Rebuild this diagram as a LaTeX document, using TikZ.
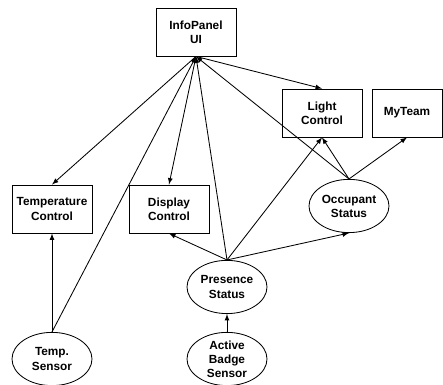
\documentclass[tikz,border=0pt]{standalone}
\usepackage{fontspec}
\setmainfont{Liberation Sans}
\usetikzlibrary{arrows,shapes,positioning}

\begin{document}
\begin{tikzpicture}[x=0.025cm, y=-0.025cm, >=latex, line width=0.6pt]
      \tikzset{
	  compbox/.style={rectangle,draw=black, minimum width=2cm, minimum height=1.2cm, inner sep=1pt, align=center, font=\fontsize{8.4}{10}\selectfont\bfseries},
	  srcell/.style={ellipse,draw=black, minimum width=2cm, minimum height=1.33cm, inner sep=0pt, align=center, font=\fontsize{8.4}{10}\selectfont\bfseries},
	  link/.style={->}
      }
      \useasboundingbox (0,0) rectangle (443,385);

      \node at (196, 32) [compbox] (ui) {InfoPanel\\UI};
      \node at (322, 113) [compbox] (lc) {Light\\Control};
      \node at (407, 113) [compbox, minimum width=1.75cm] (mt) {MyTeam};
      \node at (52, 209) [compbox] (tc) {Temperature\\Control};
      \node at (169, 209) [compbox] (dc) {Display\\Control};
      \node at (349, 206) [srcell] (os) {Occupant\\Status};
      \node at (227, 287) [srcell] (ps) {Presence\\Status};
      \node at (52, 359) [srcell] (ts) {Temp.\\Sensor};
      \node at (227, 359) [srcell] (bs) {Active\\Badge\\Sensor};

      % from the UI
      \draw [link] (ui.south) -- (tc.north);
      \draw [link] (ui.south) -- (dc.north);
      \draw [link] (ui.south) -- (lc.north);

      % sensors and status
      \draw [link] (ts.north) -- (tc.south);
      \draw [link] (ts.north) -- (ui.south);
      \draw [link] (bs.north) -- (ps.south);
      \draw [link] (ps.north) -- (ui.south);
      \draw [link] (ps.north) -- (dc.south);
      \draw [link] (ps.north) -- (os.south);
      \draw [link] (ps.north) -- (lc.south);
      \draw [link] (os.north) -- (lc.south);
      \draw [link] (os.north) -- (mt.south);
      \draw [link] (os.north) -- (ui.south);
\end{tikzpicture}
\end{document}
